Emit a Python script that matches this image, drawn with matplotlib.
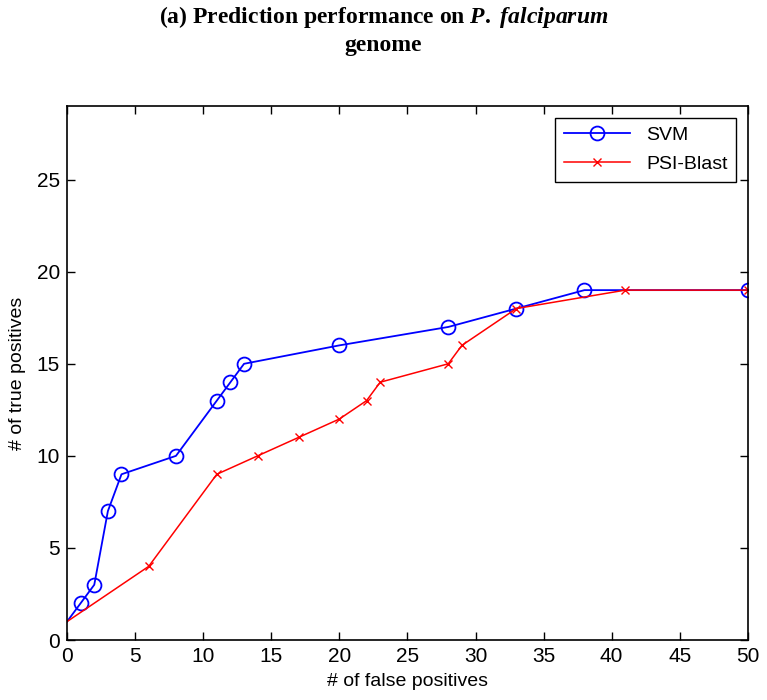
import matplotlib
matplotlib.use('Agg')
import matplotlib.pyplot as plt

# data
svm_fp=[0,1,2,3,4,8,11,12,13,20,28,33,38,50]
svm_tp=[1,2,3,7,9,10,13,14,15,16,17,18,19,19]
psi_fp=[0,6,11,14,17,20,22,23,28,29,33,41,50]
psi_tp=[1,4,9,10,11,12,13,14,15,16,18,19,19]
xticks=[0,5,10,15,20,25,30,35,40,45,50]
yticks=[0,5,10,15,20,25]

plt.rcParams['font.family']=['Liberation Sans','DejaVu Sans']
plt.rcParams['mathtext.fontset']='custom'
plt.rcParams['mathtext.rm']='Liberation Serif:bold'
plt.rcParams['mathtext.bf']='Liberation Serif:bold'
plt.rcParams['mathtext.it']='Liberation Serif:italic:bold'

fig=plt.figure(figsize=(7.67,7.0),dpi=100)
ax=fig.add_axes([0.0874,0.0857,0.8876,0.7629])

ax.plot(svm_fp,svm_tp,color='b',lw=1.3,marker='o',ms=10,mfc='none',mec='b',mew=1.3,
        markevery=list(range(1,len(svm_fp))),label='SVM')
ax.plot(psi_fp,psi_tp,color='r',lw=1.1,marker='x',ms=6,mew=1.0,
        markevery=list(range(1,len(psi_fp))),label='PSI-Blast')

ax.set_xlim(0,50)
ax.set_ylim(0,29)
ax.set_xticks(xticks)
ax.set_yticks(yticks)
ax.tick_params(direction='in',top=True,right=True,length=6,width=1,labelsize=15,pad=5)
for s in ax.spines.values():
    s.set_linewidth(1.2)
ax.set_xlabel('# of false positives',fontsize=14,labelpad=5)
ax.set_ylabel('# of true positives',fontsize=14,labelpad=8)

leg=ax.legend(loc='upper right',numpoints=1,fontsize=14,fancybox=False,framealpha=1,
              edgecolor='k',handlelength=3.4,borderaxespad=0.6,borderpad=0.45,labelspacing=0.6)
leg.get_frame().set_linewidth(1.0)

fig.text(0.5,0.975,r'(a) Prediction performance on $\mathit{P.}$ $\mathit{falciparum}$',
         ha='center',va='center',fontsize=17,fontweight='bold',family='Liberation Serif')
fig.text(0.5,0.935,'genome',ha='center',va='center',fontsize=17,fontweight='bold',
         family='Liberation Serif')

plt.savefig('out.png',dpi=100)
